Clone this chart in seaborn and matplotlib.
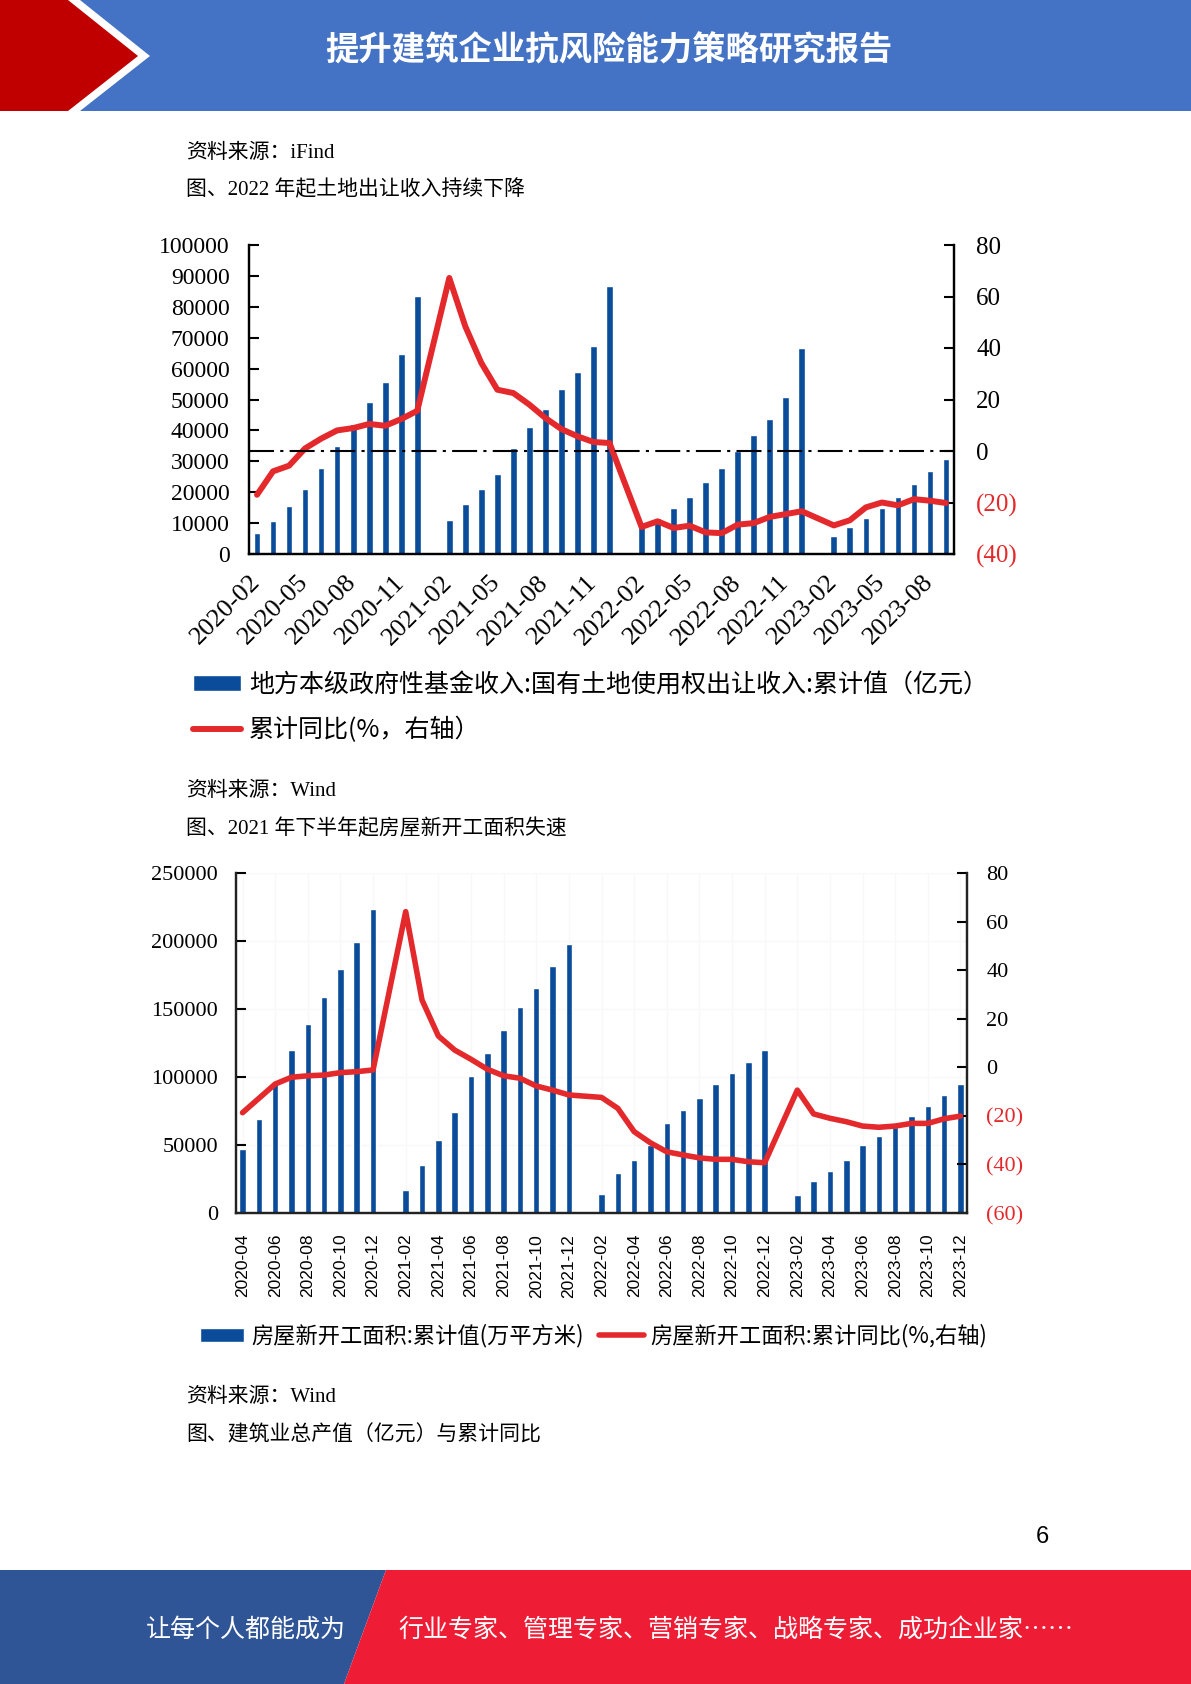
import numpy as np
import pandas as pd
import matplotlib
matplotlib.use("Agg")
import matplotlib.pyplot as plt
import seaborn as sns
from matplotlib.patches import Polygon, Patch
from matplotlib.lines import Line2D

sns.set_theme(style="white")
plt.rcParams["font.family"] = ["Liberation Serif", "Noto Sans CJK SC", "DejaVu Sans"]
plt.rcParams["text.color"] = "black"
plt.rcParams["xtick.color"] = "black"
plt.rcParams["ytick.color"] = "black"

SERIF = ["Liberation Serif", "Noto Sans CJK SC"]
SANS = ["Liberation Sans", "Noto Sans CJK SC"]
CJK = ["Noto Sans CJK SC", "DejaVu Sans"]

BAR_BLUE = "#0A4C9A"
LINE_RED = "#E3292B"

# ---- chart 1: land transfer revenue (亿元) and cumulative yoy (%) ----
land_months = [str(p) for p in pd.period_range("2020-02", "2023-09", freq="M")]
land_value = [6800, 10800, 15600, 21100, 27900, 34900, 42000, 49200, 55700, 64600, 83600,
              None, 10900, 16300, 21100, 25900, 34200, 41100, 46800, 53400, 58800, 67300, 86700,
              None, 9200, 11800, 14800, 18300, 23300, 27900, 33300, 38400, 43700, 50800, 66700,
              None, 5700, 8800, 11800, 14800, 18300, 22600, 26900, 30700]
land_yoy = [-17.0, -7.9, -5.7, 1.0, 4.8, 8.0, 8.9, 10.5, 9.8, 12.4, 15.6,
            None, 67.2, 48.4, 34.2, 23.8, 22.5, 18.0, 12.8, 8.5, 5.7, 3.5, 3.1,
            None, -29.5, -27.3, -29.9, -29.0, -31.6, -31.9, -28.6, -28.0, -25.6, -24.5, -23.4,
            None, -28.9, -26.9, -21.9, -20.0, -21.1, -18.7, -19.3, -20.2]

# ---- chart 2: new housing starts (万平方米) and cumulative yoy (%) ----
house_months = [str(p) for p in pd.period_range("2020-04", "2023-12", freq="M")]
house_value = [47200, 69100, 96600, 119600, 139100, 158900, 179400, 199600, 223300,
               None, 16600, 35400, 53700, 73900, 100600, 117900, 134300, 151800, 165500, 181600, 198000,
               None, 14200, 29300, 39300, 50100, 65900, 75700, 84200, 94500, 103200, 111100, 119600,
               None, 13500, 23700, 30700, 39300, 49800, 56700, 63000, 71500, 78600, 86400, 94500]
house_yoy = [-18.7, -12.8, -6.9, -4.1, -3.5, -3.2, -2.2, -1.8, -1.1,
             None, 64.1, 27.7, 12.9, 7.1, 3.3, -0.8, -3.5, -4.5, -7.7, -9.4, -11.4,
             None, -12.4, -16.9, -26.5, -31.1, -34.8, -36.1, -37.3, -37.9, -37.9, -38.9, -39.3,
             None, -9.4, -19.2, -21.0, -22.4, -24.2, -24.7, -24.2, -23.1, -23.1, -21.2, -20.1]

land = pd.DataFrame({"month": land_months, "value": land_value, "yoy": land_yoy}, dtype=object)
land["value"] = pd.to_numeric(land["value"])
land["yoy"] = pd.to_numeric(land["yoy"])
land["pos"] = np.arange(len(land))

house = pd.DataFrame({"month": house_months, "value": house_value, "yoy": house_yoy}, dtype=object)
house["value"] = pd.to_numeric(house["value"])
house["yoy"] = pd.to_numeric(house["yoy"])
house["pos"] = np.arange(len(house))

W, H = 1191, 1684
fig = plt.figure(figsize=(W / 100, H / 100), dpi=100)


def rect(left, top, right, bottom):
    return [left / W, 1 - bottom / H, (right - left) / W, (bottom - top) / H]


def right_labels(ax, ticks, size):
    ax.set_yticks(ticks)
    ax.set_yticklabels([f"({-t})" if t < 0 else f"{t}" for t in ticks], fontsize=size, family=SERIF)
    for lab, t in zip(ax.get_yticklabels(), ticks):
        lab.set_color(LINE_RED if t < 0 else "black")


# page background: header, footer, captions
bg = fig.add_axes([0, 0, 1, 1], zorder=-10)
bg.set_xlim(0, W)
bg.set_ylim(H, 0)
bg.axis("off")

bg.add_patch(Polygon([(80, 0), (W, 0), (W, 111), (80, 111), (150, 56)], closed=True, color="#4472C4", lw=0))
bg.add_patch(Polygon([(0, 0), (68, 0), (138, 56), (68, 111), (0, 111)], closed=True, color="#C00000", lw=0))
bg.text(609, 51, "提升建筑企业抗风险能力策略研究报告", color="white", fontsize=24, fontweight="bold",
        family=CJK, ha="center", va="center")

bg.add_patch(Polygon([(0, 1570), (386, 1570), (344, H), (0, H)], closed=True, color="#2F5597", lw=0))
bg.add_patch(Polygon([(386, 1570), (W, 1570), (W, H), (344, H)], closed=True, color="#EE1C35", lw=0))
bg.text(246, 1630, "让每个人都能成为", color="white", fontsize=18, family=CJK, ha="center", va="center")
bg.text(398, 1630, "行业专家、管理专家、营销专家、战略专家、成功企业家……", color="white", fontsize=18,
        family=CJK, ha="left", va="center")
bg.text(1042, 1537, "6", fontsize=17, family=SANS, ha="center", va="center")

captions = [(153, "资料来源：iFind"), (190, "图、2022 年起土地出让收入持续下降"),
            (791, "资料来源：Wind"), (829, "图、2021 年下半年起房屋新开工面积失速"),
            (1397, "资料来源：Wind"), (1435, "图、建筑业总产值（亿元）与累计同比")]
for y, txt in captions:
    bg.text(186, y, txt, fontsize=15, family=SERIF, ha="left", va="center")

# ---------------- chart 1 ----------------
ax1 = fig.add_axes(rect(249, 245, 954, 554))
ax1.set_facecolor("none")
sns.barplot(data=land.dropna(subset=["value"]), x="pos", y="value", native_scale=True,
            color=BAR_BLUE, saturation=1, width=0.42, errorbar=None, ax=ax1)
ax1.set_xlim(-0.5, len(land) - 0.5)
ax1.set_ylim(0, 100000)
ax1.set_yticks(np.arange(0, 100001, 10000))
ax1.set_yticklabels([f"{int(t)}" for t in np.arange(0, 100001, 10000)], fontsize=17, family=SERIF)
ax1.set_xticks(land["pos"][::3])
ax1.set_xticklabels(land["month"][::3], rotation=45, ha="right", va="center",
                    rotation_mode="anchor", fontsize=19, family=SERIF)
ax1.tick_params(axis="y", left=True, direction="in", length=7, width=1.5, pad=14)
ax1.tick_params(axis="x", bottom=False, pad=12)
ax1.set_xlabel("")
ax1.set_ylabel("")

ax1b = ax1.twinx()
sns.lineplot(data=land.dropna(subset=["yoy"]), x="pos", y="yoy", color=LINE_RED, linewidth=4.3,
             solid_joinstyle="round", ax=ax1b)
ax1b.axhline(0, color="black", lw=1.5, linestyle=(0, (12, 3, 1.5, 3)))
ax1b.set_ylim(-40, 80)
right_labels(ax1b, np.arange(-40, 81, 20), 18)
ax1b.tick_params(axis="y", right=True, direction="in", length=7, width=1.5, pad=16)
ax1b.set_ylabel("")

for a in (ax1, ax1b):
    a.spines["top"].set_visible(False)
    for s in ("left", "right", "bottom"):
        a.spines[s].set_color("black")
        a.spines[s].set_linewidth(1.6)

fig.legend([Patch(facecolor=BAR_BLUE), Line2D([], [], color=LINE_RED, lw=4.3)],
           ["地方本级政府性基金收入:国有土地使用权出让收入:累计值（亿元）", "累计同比(%，右轴）"],
           loc="upper left", bbox_to_anchor=(193 / W, 1 - 672 / H), frameon=False,
           prop={"family": CJK, "size": 18}, handlelength=1.9, handleheight=0.6,
           handletextpad=0.35, labelspacing=0.75, borderpad=0, borderaxespad=0)

# ---------------- chart 2 ----------------
ax2 = fig.add_axes(rect(236, 873, 967, 1213))
ax2.set_facecolor("none")
sns.barplot(data=house.dropna(subset=["value"]), x="pos", y="value", native_scale=True,
            color=BAR_BLUE, saturation=1, width=0.4, errorbar=None, ax=ax2)
ax2.set_xlim(-0.4, len(house) - 0.6)
ax2.set_ylim(0, 250000)
ax2.set_yticks(np.arange(0, 250001, 50000))
ax2.set_yticklabels([f"{int(t)}" for t in np.arange(0, 250001, 50000)], fontsize=16, family=SERIF)
ax2.set_xticks(house["pos"][::2])
ax2.set_xticklabels(house["month"][::2], rotation=90, ha="center", va="top", fontsize=12.5, family=SANS)
ax2.tick_params(axis="y", left=True, direction="in", length=7, width=1.5, pad=13)
ax2.tick_params(axis="x", bottom=False, pad=9)
ax2.grid(True, color="#f8f8f8", lw=1)
ax2.set_axisbelow(True)
ax2.set_xlabel("")
ax2.set_ylabel("")

ax2b = ax2.twinx()
sns.lineplot(data=house.dropna(subset=["yoy"]), x="pos", y="yoy", color=LINE_RED, linewidth=4.0,
             solid_joinstyle="round", ax=ax2b)
ax2b.set_ylim(-60, 80)
right_labels(ax2b, np.arange(-60, 81, 20), 16)
ax2b.tick_params(axis="y", right=True, direction="in", length=7, width=1.5, pad=14)
ax2b.set_ylabel("")

for a in (ax2, ax2b):
    a.spines["top"].set_visible(False)
    for s in ("left", "right", "bottom"):
        a.spines[s].set_color("#222222")
        a.spines[s].set_linewidth(1.6)

fig.legend([Patch(facecolor=BAR_BLUE), Line2D([], [], color=LINE_RED, lw=4.0)],
           ["房屋新开工面积:累计值(万平方米)", "房屋新开工面积:累计同比(%,右轴)"],
           loc="upper left", bbox_to_anchor=(200 / W, 1 - 1324 / H), frameon=False, ncol=2,
           prop={"family": CJK, "size": 16}, handlelength=2.0, handleheight=0.6,
           handletextpad=0.3, columnspacing=0.7, borderpad=0, borderaxespad=0)

fig.savefig("out.png", dpi=100)
